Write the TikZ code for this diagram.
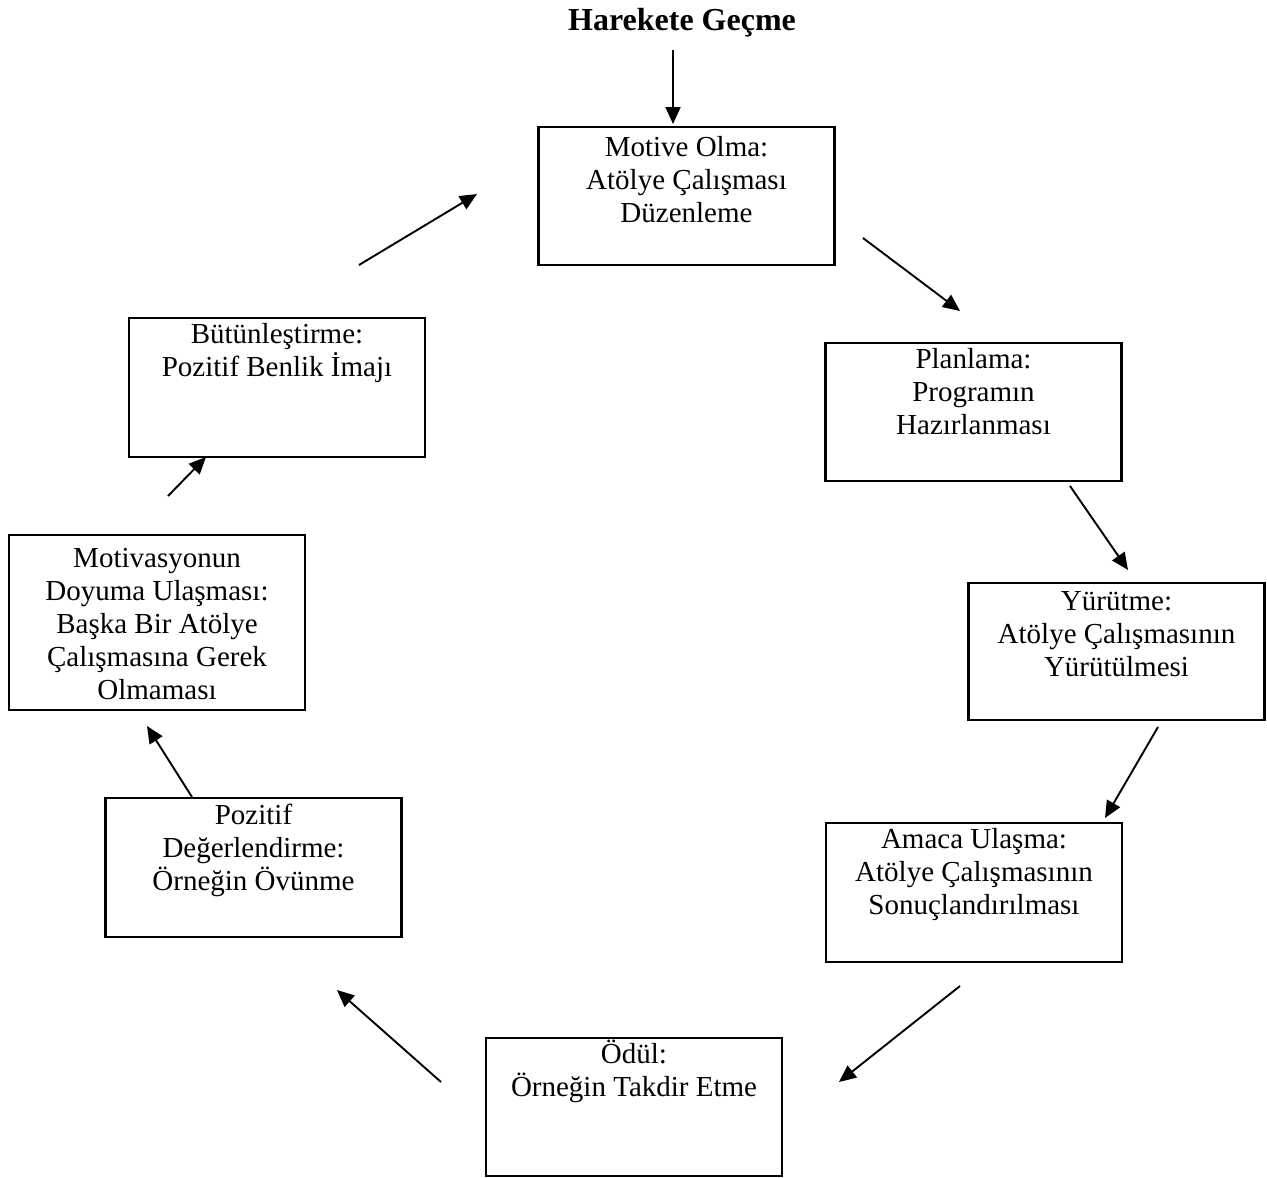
\documentclass[tikz,border=0pt]{standalone}
\usepackage{fontspec}
\setmainfont{Liberation Serif}
\usetikzlibrary{arrows.meta}
\newcommand{\bxt}[3]{\parbox[c][#1pt][t]{296pt}{\centering\mbox{}\par\vspace*{\dimexpr#2pt-33pt\relax}#3}}
\begin{document}
\begin{tikzpicture}[x=1pt,y=-1pt,
  stagebox/.style={draw,line width=2.7pt,inner sep=0pt,outer sep=0pt,font=\fontsize{29}{33}\selectfont},
  flow/.style={line width=1.9pt,-{Triangle[length=17pt,width=15pt]}}]
\useasboundingbox (0,0) rectangle (1267,1178);
\node[anchor=base,font=\bfseries\fontsize{32}{38}\selectfont] (title) at (682,30) {Harekete Geçme};
\node[stagebox] (motive) at (686.5,196) {\bxt{138}{29}{Motive Olma:\\Atölye Çalışması\\Düzenleme}};
\node[stagebox] (plan) at (973.5,412) {\bxt{138}{25}{Planlama:\\Programın\\Hazırlanması}};
\node[stagebox] (yurut) at (1116.5,651.5) {\bxt{137}{27}{Yürütme:\\Atölye Çalışmasının\\Yürütülmesi}};
\node[stagebox] (amac) at (974,892.5) {\bxt{139}{25}{Amaca Ulaşma:\\Atölye Çalışmasının\\Sonuçlandırılması}};
\node[stagebox] (odul) at (634,1107) {\bxt{138}{25}{Ödül:\\Örneğin Takdir Etme}};
\node[stagebox] (pozitif) at (253.5,867.5) {\bxt{139}{26}{Pozitif\\Değerlendirme:\\Örneğin Övünme}};
\node[stagebox] (motiv) at (157,622.5) {\bxt{175}{32}{Motivasyonun\\Doyuma Ulaşması:\\Başka Bir Atölye\\Çalışmasına Gerek\\Olmaması}};
\node[stagebox] (butun) at (277,387.5) {\bxt{139}{25}{Bütünleştirme:\\Pozitif Benlik İmajı}};
% connector end points
\coordinate (a0s) at (673,50);   \coordinate (a0e) at (673,124);
\coordinate (a1s) at (863,238);  \coordinate (a1e) at (960,311);
\coordinate (a2s) at (1070,486); \coordinate (a2e) at (1128,570);
\coordinate (a3s) at (1158,727); \coordinate (a3e) at (1105,818);
\coordinate (a4s) at (960,986);  \coordinate (a4e) at (839,1082);
\coordinate (a5s) at (441,1082); \coordinate (a5e) at (337,990);
\coordinate (a6s) at (192,797);  \coordinate (a6e) at (147,726);
\coordinate (a7s) at (168,496);  \coordinate (a7e) at (206,457);
\coordinate (a8s) at (359,265);  \coordinate (a8e) at (477,194);
\draw[flow] (a0s) -- (a0e);
\draw[flow] (a1s) -- (a1e);
\draw[flow] (a2s) -- (a2e);
\draw[flow] (a3s) -- (a3e);
\draw[flow] (a4s) -- (a4e);
\draw[flow] (a5s) -- (a5e);
\draw[flow] (a6s) -- (a6e);
\draw[flow] (a7s) -- (a7e);
\draw[flow] (a8s) -- (a8e);
\end{tikzpicture}
\end{document}
